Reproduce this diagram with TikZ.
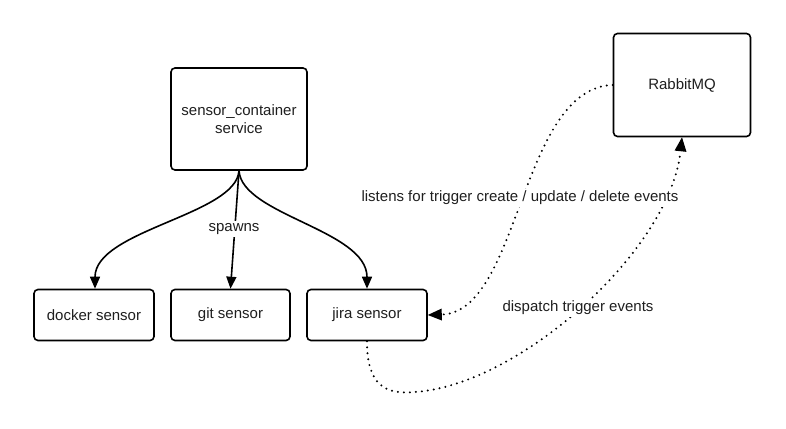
\documentclass[tikz,border=0pt]{standalone}
\usepackage{fontspec}
\setmainfont{Liberation Sans}
\usetikzlibrary{arrows.meta}
\begin{document}
\begin{tikzpicture}[x=1pt,y=-1pt,
  box/.style={draw=black, line width=1.6pt, rounded corners=4pt, align=center,
    font=\fontsize{15}{18}\selectfont, text=black!88, inner sep=0pt},
  lbl/.style={fill=white, font=\fontsize{15}{18}\selectfont, text=black!88, inner sep=2pt},
  spawn/.style={line width=1.6pt, -{Triangle[length=12pt,width=10pt]}},
  dotline/.style={line width=2.2pt, line cap=round, dash pattern=on 0pt off 6pt,
    -{Triangle[length=14pt,width=12pt,line width=0pt,fill=black]}}
]
\useasboundingbox[fill=white] (0,0) rectangle (786,428);

\node[box, minimum width=136pt, minimum height=102pt] (sc) at (239,119) {sensor\_container\\service};
\node[box, minimum width=120pt, minimum height=51pt] (docker) at (94,315) {docker sensor};
\node[box, minimum width=119pt, minimum height=51pt] (git) at (230.5,315) {git sensor};
\node[box, minimum width=120pt, minimum height=51pt] (jira) at (367,315) {jira sensor};
\node[box, minimum width=137pt, minimum height=103pt] (rmq) at (682,85) {RabbitMQ};

\draw[spawn] (sc.south) .. controls (236,215) and (95,230) .. (docker.north -| 95,0);
\draw[spawn] (sc.south) -- (git.north);
\draw[spawn] (sc.south) .. controls (242,215) and (367,230) .. (jira.north);
\node[lbl] (sp) at (234,229) {spawns};

\coordinate (low) at (415,392);
\draw[dotline] (rmq.west) .. controls (520,88) and (520,312) .. (jira.east);
\draw[dotline] (jira.south) .. controls (367,385) and (385,395) .. (low)
  .. controls (520,385) and (670,250) .. (rmq.south);

\node[lbl] (l1) at (520,198) {listens for trigger create / update / delete events};
\node[lbl] (l2) at (578,308) {dispatch trigger events};
\end{tikzpicture}
\end{document}
